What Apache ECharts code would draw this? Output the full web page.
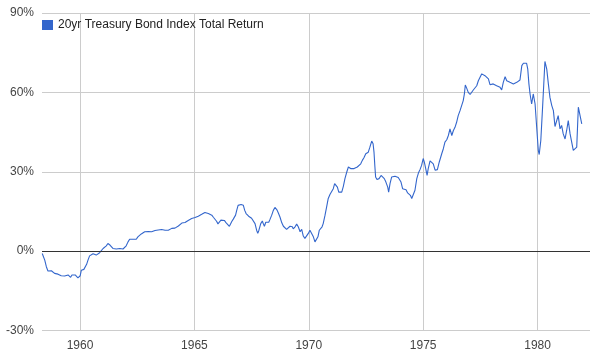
<!DOCTYPE html>
<html>
<head>
<meta charset="utf-8">
<script src="https://cdn.jsdelivr.net/npm/echarts@6/dist/echarts.min.js"></script>
<style>html,body{margin:0;padding:0;background:#fff}#c{width:594px;height:361px}</style>
</head>
<body>
<div id="c"></div>
<script>
const seriesName = "20yr Treasury Bond Index Total Return";
const xTicks = [1960, 1965, 1970, 1975, 1980];
const yTicks = [-30, 0, 30, 60, 90];
const years = [
1958.35,1958.46,1958.53,1958.60,1958.68,1958.75,1958.82,1958.89,1958.96,1959.04,1959.11,1959.18,1959.26,1959.33,1959.40,1959.48,1959.55,1959.59,1959.65,1959.72,1959.79,1959.86,1959.91,1959.97,
1960.01,1960.06,1960.12,1960.17,1960.23,1960.29,1960.35,1960.42,1960.49,1960.57,1960.64,1960.71,1960.79,1960.86,1960.93,
1961.01,1961.08,1961.15,1961.22,1961.27,1961.31,1961.37,1961.44,1961.52,1961.59,1961.66,1961.74,1961.81,1961.88,1961.95,
1962.02,1962.10,1962.17,1962.24,1962.32,1962.39,1962.46,1962.53,1962.61,1962.68,1962.75,1962.83,1962.90,1962.99,
1963.06,1963.13,1963.20,1963.28,1963.35,1963.42,1963.50,1963.57,1963.64,1963.72,1963.79,1963.86,1963.93,
1964.01,1964.08,1964.15,1964.23,1964.30,1964.37,1964.45,1964.52,1964.59,1964.66,1964.73,1964.81,1964.88,1964.95,
1965.03,1965.10,1965.17,1965.24,1965.32,1965.39,1965.46,1965.54,1965.61,1965.68,1965.76,1965.83,1965.90,1965.97,
1966.03,1966.09,1966.16,1966.24,1966.31,1966.38,1966.46,1966.53,1966.59,1966.64,1966.70,1966.76,1966.80,1966.85,1966.91,1966.95,1966.99,
1967.04,1967.08,1967.14,1967.20,1967.26,1967.31,1967.37,1967.43,1967.50,1967.57,1967.65,1967.72,1967.77,1967.82,1967.90,1967.97,
1968.01,1968.06,1968.12,1968.19,1968.25,1968.30,1968.38,1968.45,1968.52,1968.60,1968.67,1968.74,1968.82,1968.89,1968.96,
1969.03,1969.10,1969.18,1969.22,1969.28,1969.32,1969.40,1969.47,1969.54,1969.62,1969.69,1969.76,1969.83,1969.91,1969.98,
1970.05,1970.13,1970.20,1970.27,1970.35,1970.40,1970.46,1970.52,1970.58,1970.63,1970.71,1970.78,1970.85,1970.93,
1971.00,1971.07,1971.13,1971.19,1971.25,1971.31,1971.36,1971.44,1971.51,1971.58,1971.66,1971.73,1971.77,1971.83,1971.90,1971.98,
1972.05,1972.12,1972.19,1972.27,1972.34,1972.41,1972.49,1972.54,1972.60,1972.67,1972.75,1972.81,1972.85,1972.89,1972.92,1972.98,
1973.07,1973.16,1973.23,1973.30,1973.37,1973.45,1973.49,1973.55,1973.62,1973.69,1973.77,1973.84,1973.91,1973.97,
1974.03,1974.10,1974.17,1974.25,1974.32,1974.38,1974.44,1974.50,1974.57,1974.64,1974.72,1974.79,1974.86,1974.93,
1975.00,1975.05,1975.11,1975.17,1975.22,1975.30,1975.37,1975.44,1975.52,1975.62,1975.70,1975.81,1975.88,1975.95,
1976.03,1976.10,1976.17,1976.25,1976.32,1976.39,1976.46,1976.53,1976.61,1976.68,1976.75,1976.80,1976.84,1976.90,1976.97,
1977.05,1977.12,1977.19,1977.26,1977.34,1977.41,1977.48,1977.56,1977.63,1977.70,1977.78,1977.85,1977.92,1977.99,
1978.06,1978.14,1978.21,1978.28,1978.36,1978.43,1978.50,1978.58,1978.65,1978.72,1978.79,1978.87,1978.94,
1979.01,1979.09,1979.16,1979.23,1979.31,1979.38,1979.45,1979.52,1979.57,1979.62,1979.67,1979.74,1979.81,1979.89,1979.96,
1980.03,1980.07,1980.14,1980.21,1980.27,1980.32,1980.40,1980.47,1980.54,1980.62,1980.69,1980.76,1980.84,1980.90,1980.98,
1981.05,1981.12,1981.20,1981.27,1981.34,1981.42,1981.49,1981.56,1981.63,1981.71,1981.78,1981.85,1981.93
];
const returns = [
-0.9,-3.4,-5.9,-7.5,-7.8,-7.4,-8.0,-8.4,-8.5,-8.7,-9.0,-9.3,-9.3,-9.4,-9.3,-9.0,-9.2,-9.9,-9.0,-8.8,-9.0,-9.7,-10.1,-10.3,
-9.3,-7.2,-6.5,-6.9,-6.3,-5.0,-3.4,-1.8,-1.1,-1.0,-1.2,-1.5,-1.1,-0.6,0.1,
1.0,1.4,2.0,2.9,3.3,2.3,1.6,1.0,0.4,0.8,1.2,1.0,0.8,0.8,1.0,
2.0,3.5,4.5,4.8,4.5,4.0,4.5,5.4,5.7,6.5,7.0,7.3,7.5,7.4,
7.5,7.3,7.6,7.8,8.0,8.0,8.4,8.2,8.0,7.9,7.8,7.9,8.3,
8.6,8.6,8.7,9.0,9.5,10.1,10.6,10.8,10.8,11.0,11.6,12.1,12.3,12.4,
12.7,12.9,13.2,13.6,13.9,14.3,14.6,14.4,14.2,14.1,13.6,12.8,12.1,11.3,
10.3,10.8,11.7,11.9,11.6,10.8,10.1,9.4,10.1,11.3,12.1,12.3,13.6,15.4,17.3,18.0,17.2,
17.6,18.0,17.3,15.4,14.2,13.6,13.2,12.7,12.4,11.9,10.4,7.9,6.7,7.9,10.4,11.4,
10.4,9.4,10.9,11.4,10.9,11.9,13.6,15.4,16.5,15.7,14.4,12.9,10.7,9.4,8.9,
8.2,7.9,9.4,10.1,9.2,8.4,9.2,10.2,9.2,7.3,8.2,5.7,4.8,4.4,6.7,
7.9,7.3,5.4,3.5,2.9,5.4,7.9,7.3,9.2,10.4,13.6,16.7,19.9,21.5,
22.0,23.6,25.5,25.9,24.2,22.3,21.8,22.3,24.5,27.4,29.9,31.8,32.3,31.2,31.5,31.2,
31.5,31.8,31.2,33.0,34.3,35.3,36.8,36.2,37.4,39.3,41.6,40.6,37.4,31.8,28.0,27.1,
27.4,28.6,28.0,27.4,26.1,24.2,22.3,25.5,28.0,28.7,28.3,28.5,27.8,28.3,
26.1,23.6,23.0,23.2,22.0,22.7,21.1,19.9,20.5,23.0,27.4,29.5,30.8,32.4,
35.0,33.6,31.2,28.6,31.2,34.1,34.3,33.0,30.6,30.8,33.6,36.8,38.7,41.2,
42.1,43.7,46.2,43.7,45.6,46.8,48.7,51.2,53.1,55.0,56.9,59.4,62.8,61.6,60.0,
59.2,59.6,60.9,60.9,62.5,64.4,65.1,67.0,66.7,66.3,66.3,65.1,62.9,62.5,
63.2,63.2,62.5,61.9,61.9,60.9,63.8,65.9,64.4,64.4,63.8,63.2,63.2,
63.5,63.8,64.2,64.7,70.1,71.0,71.6,71.0,68.8,63.2,59.4,55.6,59.4,55.6,46.8,
38.1,36.5,41.8,53.1,63.2,71.7,68.8,63.2,58.1,55.0,53.1,47.1,47.5,51.2,46.2,
47.5,44.3,42.4,45.6,49.3,44.3,41.2,38.1,37.4,39.3,54.4,54.6,48.1
];

const data = years.map((y, i) => [y, returns[i]]);
const chart = echarts.init(document.getElementById('c'), null, {renderer: 'canvas'});
const font = 'Arial, "Liberation Sans", sans-serif';
chart.setOption({
  animation: false,
  backgroundColor: '#fff',
  grid: {left: 42, right: 4, top: 13, bottom: 30.5, containLabel: false},
  legend: {
    show: true, left: 42, top: 19, padding: 0, icon: 'rect', itemWidth: 11, itemHeight: 10, itemGap: 10,
    textStyle: {color: '#222', fontSize: 12, fontFamily: font},
    data: [seriesName]
  },
  xAxis: {
    type: 'value', min: 1958.34, max: 1982.29,
    axisLine: {show: false},
    axisTick: {show: false, customValues: xTicks},
    axisLabel: {customValues: xTicks, color: '#444', fontSize: 12, fontFamily: font, margin: 9,
      formatter: v => String(Math.round(v))},
    splitLine: {show: true, lineStyle: {color: '#ccc', width: 1}}
  },
  yAxis: {
    type: 'value', min: yTicks[0], max: yTicks[yTicks.length - 1], interval: 30,
    axisLine: {show: false}, axisTick: {show: false},
    axisLabel: {color: '#444', fontSize: 12, fontFamily: font, margin: 8, formatter: '{value}%'},
    splitLine: {show: true, lineStyle: {color: '#ccc', width: 1}}
  },
  series: [{
    name: seriesName, type: 'line', data: data, showSymbol: false, symbol: 'none',
    color: '#3366cc', lineStyle: {width: 1.1, color: '#3366cc'},
    markLine: {silent: true, symbol: 'none', label: {show: false},
      lineStyle: {color: '#333', type: 'solid', width: 1}, data: [{yAxis: 0}], animation: false}
  }]
});
</script>
</body>
</html>
